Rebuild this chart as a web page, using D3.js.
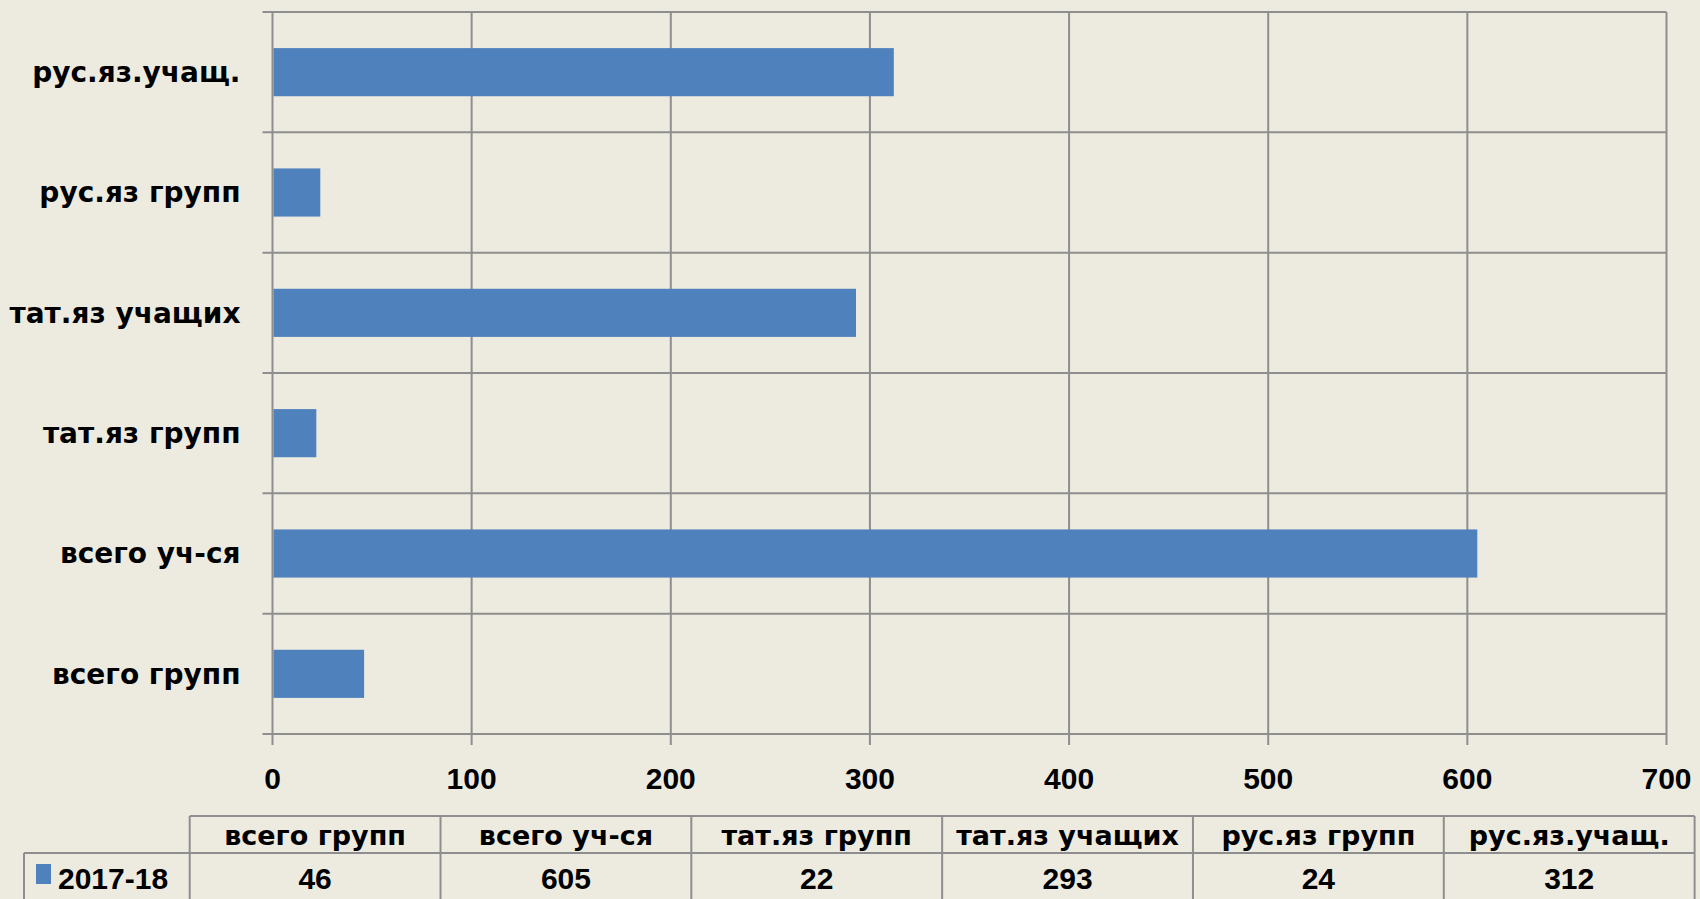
<!DOCTYPE html>
<html lang="ru">
<head>
<meta charset="utf-8">
<script src="https://d3js.org/d3.v7.min.js"></script>
<style>
  body { margin: 0; background: #EDEBE0; }
  svg { display: block; }
</style>
</head>
<body>
<script>
  // data
  var categories = ['всего групп', 'всего уч-ся', 'тат.яз групп', 'тат.яз учащих', 'рус.яз групп', 'рус.яз.учащ.'];
  var values = [46, 605, 22, 293, 24, 312];
  var seriesName = '2017-18';
  var xTicks = [0, 100, 200, 300, 400, 500, 600, 700];

  var width = 1700, height = 899;
  var plotLeft = 272.5, plotRight = 1666.5, plotTop = 12, plotBottom = 734;
  var gridColor = '#8e8e8e';
  var barColor = '#4F81BD';
  var textFont = '"DejaVu Sans", sans-serif';
  var numFont = '"Liberation Sans", Arial, sans-serif';

  var svg = d3.select('body').append('svg')
    .attr('width', width)
    .attr('height', height);

  svg.append('rect').attr('width', width).attr('height', height).attr('fill', '#EDEBE0');

  var x = d3.scaleLinear().domain([0, 700]).range([plotLeft, plotRight]);
  // first category sits at the bottom
  var y = d3.scaleBand().domain(categories.slice().reverse()).range([plotTop, plotBottom])
    .paddingInner(0.6).paddingOuter(0.3);

  var step = y.step();
  var boundaries = d3.range(categories.length + 1).map(function(i) { return plotTop + i * step; });

  // horizontal lines at band edges (grid + outside tick)
  svg.append('g').selectAll('line')
    .data(boundaries)
    .enter().append('line')
    .attr('x1', plotLeft - 10).attr('x2', plotRight)
    .attr('y1', function(d) { return d; }).attr('y2', function(d) { return d; })
    .attr('stroke', gridColor).attr('stroke-width', 2);

  // vertical grid lines with ticks below the axis
  svg.append('g').selectAll('line')
    .data(xTicks)
    .enter().append('line')
    .attr('x1', function(d) { return x(d); }).attr('x2', function(d) { return x(d); })
    .attr('y1', plotTop).attr('y2', plotBottom + 11)
    .attr('stroke', gridColor).attr('stroke-width', 2);

  // bars
  svg.append('g').selectAll('rect')
    .data(categories)
    .enter().append('rect')
    .attr('x', x(0) + 1)
    .attr('y', function(d) { return y(d); })
    .attr('width', function(d, i) { return x(values[i]) - x(0) - 1; })
    .attr('height', y.bandwidth())
    .attr('fill', barColor);

  // category labels
  svg.append('g').selectAll('text')
    .data(categories)
    .enter().append('text')
    .attr('x', plotLeft - 32)
    .attr('y', function(d) { return y(d) + y.bandwidth() / 2; })
    .attr('dy', '0.35em')
    .attr('text-anchor', 'end')
    .attr('font-family', textFont).attr('font-weight', 'bold').attr('font-size', '28px')
    .attr('fill', '#000')
    .text(function(d) { return d; });

  // x tick labels
  svg.append('g').selectAll('text')
    .data(xTicks)
    .enter().append('text')
    .attr('x', function(d) { return x(d); })
    .attr('y', 778)
    .attr('dy', '0.35em')
    .attr('text-anchor', 'middle')
    .attr('font-family', numFont).attr('font-weight', 'bold').attr('font-size', '30px')
    .attr('fill', '#000')
    .text(function(d) { return d; });

  // data table
  var tLeft = 24, tHead = 189.7, tRight = 1694.6;
  var tTop = 816, tMid = 853, tBot = 905;
  var col = d3.scaleBand().domain(categories).range([tHead, tRight]);
  var table = svg.append('g');

  var lineStyle = function(sel) { return sel.attr('stroke', gridColor).attr('stroke-width', 2); };

  table.append('line').attr('x1', tHead).attr('x2', tRight).attr('y1', tTop).attr('y2', tTop).call(lineStyle);
  table.append('line').attr('x1', tLeft).attr('x2', tRight).attr('y1', tMid).attr('y2', tMid).call(lineStyle);
  table.append('line').attr('x1', tLeft).attr('x2', tLeft).attr('y1', tMid).attr('y2', tBot).call(lineStyle);
  table.selectAll('.vline')
    .data(categories.concat(['end']))
    .enter().append('line')
    .attr('x1', function(d) { return d === 'end' ? tRight : col(d); })
    .attr('x2', function(d) { return d === 'end' ? tRight : col(d); })
    .attr('y1', tTop).attr('y2', tBot)
    .call(lineStyle);

  table.selectAll('.head')
    .data(categories)
    .enter().append('text')
    .attr('x', function(d) { return col(d) + col.bandwidth() / 2; })
    .attr('y', (tTop + tMid) / 2 + 1)
    .attr('dy', '0.35em')
    .attr('text-anchor', 'middle')
    .attr('font-family', textFont).attr('font-weight', 'bold').attr('font-size', '27px')
    .text(function(d) { return d; });

  table.selectAll('.val')
    .data(values)
    .enter().append('text')
    .attr('x', function(d, i) { return col(categories[i]) + col.bandwidth() / 2; })
    .attr('y', 878)
    .attr('dy', '0.35em')
    .attr('text-anchor', 'middle')
    .attr('font-family', numFont).attr('font-weight', 'bold').attr('font-size', '30px')
    .text(function(d) { return d; });

  // legend key in row header
  table.append('rect').attr('x', 36).attr('y', 864).attr('width', 15).attr('height', 20).attr('fill', barColor);
  table.append('text')
    .attr('x', 58).attr('y', 878).attr('dy', '0.35em')
    .attr('font-family', numFont).attr('font-weight', 'bold').attr('font-size', '30px')
    .text(seriesName);
</script>
</body>
</html>
